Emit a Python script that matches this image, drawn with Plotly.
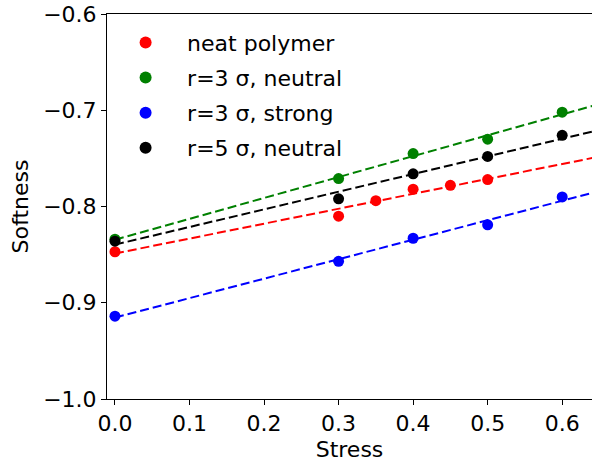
import numpy as np
import plotly.graph_objects as go

# Data
neat_x = [0.0, 0.3, 0.35, 0.4, 0.45, 0.5]
neat_y = [-0.847, -0.810, -0.794, -0.782, -0.778, -0.772]

r3n_x = [0.0, 0.3, 0.4, 0.5, 0.6]
r3n_y = [-0.834, -0.771, -0.745, -0.730, -0.702]

r3s_x = [0.0, 0.3, 0.4, 0.5, 0.6]
r3s_y = [-0.914, -0.857, -0.833, -0.819, -0.790]

r5n_x = [0.0, 0.3, 0.4, 0.5, 0.6]
r5n_y = [-0.836, -0.792, -0.766, -0.748, -0.726]

names = ["neat polymer", "r=3 σ, neutral", "r=3 σ, strong", "r=5 σ, neutral"]
colors = ["#ff0000", "#008000", "#0000ff", "#000000"]
series = [(neat_x, neat_y), (r3n_x, r3n_y), (r3s_x, r3s_y), (r5n_x, r5n_y)]

fig = go.Figure()

fit_x = np.array([0.0, 0.75])
for (xs, ys), c in zip(series, colors):
    k, b = np.polyfit(xs, ys, 1)
    fig.add_trace(go.Scatter(x=fit_x, y=k * fit_x + b, mode="lines",
                             line=dict(color=c, width=2, dash="9px,4px"),
                             showlegend=False, hoverinfo="skip"))

for i, ((xs, ys), c, n) in enumerate(zip(series, colors, names)):
    fig.add_trace(go.Scatter(x=xs, y=ys, mode="markers", name=n,
                             legendgroup=f"g{i}",
                             marker=dict(color=c, size=11, line=dict(width=0))))

axis_common = dict(showgrid=False, zeroline=False, showline=True,
                   linecolor="black", linewidth=1, ticks="outside",
                   ticklen=5, tickwidth=1, tickcolor="black",
                   tickfont=dict(size=22, color="black"), tickformat=".1f")

fig.update_layout(
    width=592, height=466,
    margin=dict(l=107, r=0, t=14, b=67),
    paper_bgcolor="white", plot_bgcolor="white",
    font=dict(family="DejaVu Sans", size=22, color="black"),
    xaxis=dict(range=[-0.0107, 0.640], dtick=0.1, tick0=0, mirror=True,
               title=dict(text="Stress", font=dict(size=22), standoff=6),
               **axis_common),
    yaxis=dict(range=[-1.0, -0.6], dtick=0.1, tick0=-1.0,
               title=dict(text="Softness", font=dict(size=22), standoff=8),
               **axis_common),
    legend=dict(x=-0.006, y=0.98, xanchor="left", yanchor="top",
                bgcolor="rgba(0,0,0,0)", font=dict(size=22),
                tracegroupgap=3.5, itemsizing="constant", itemwidth=73),
    showlegend=True,
)

fig.write_html("out.html")
